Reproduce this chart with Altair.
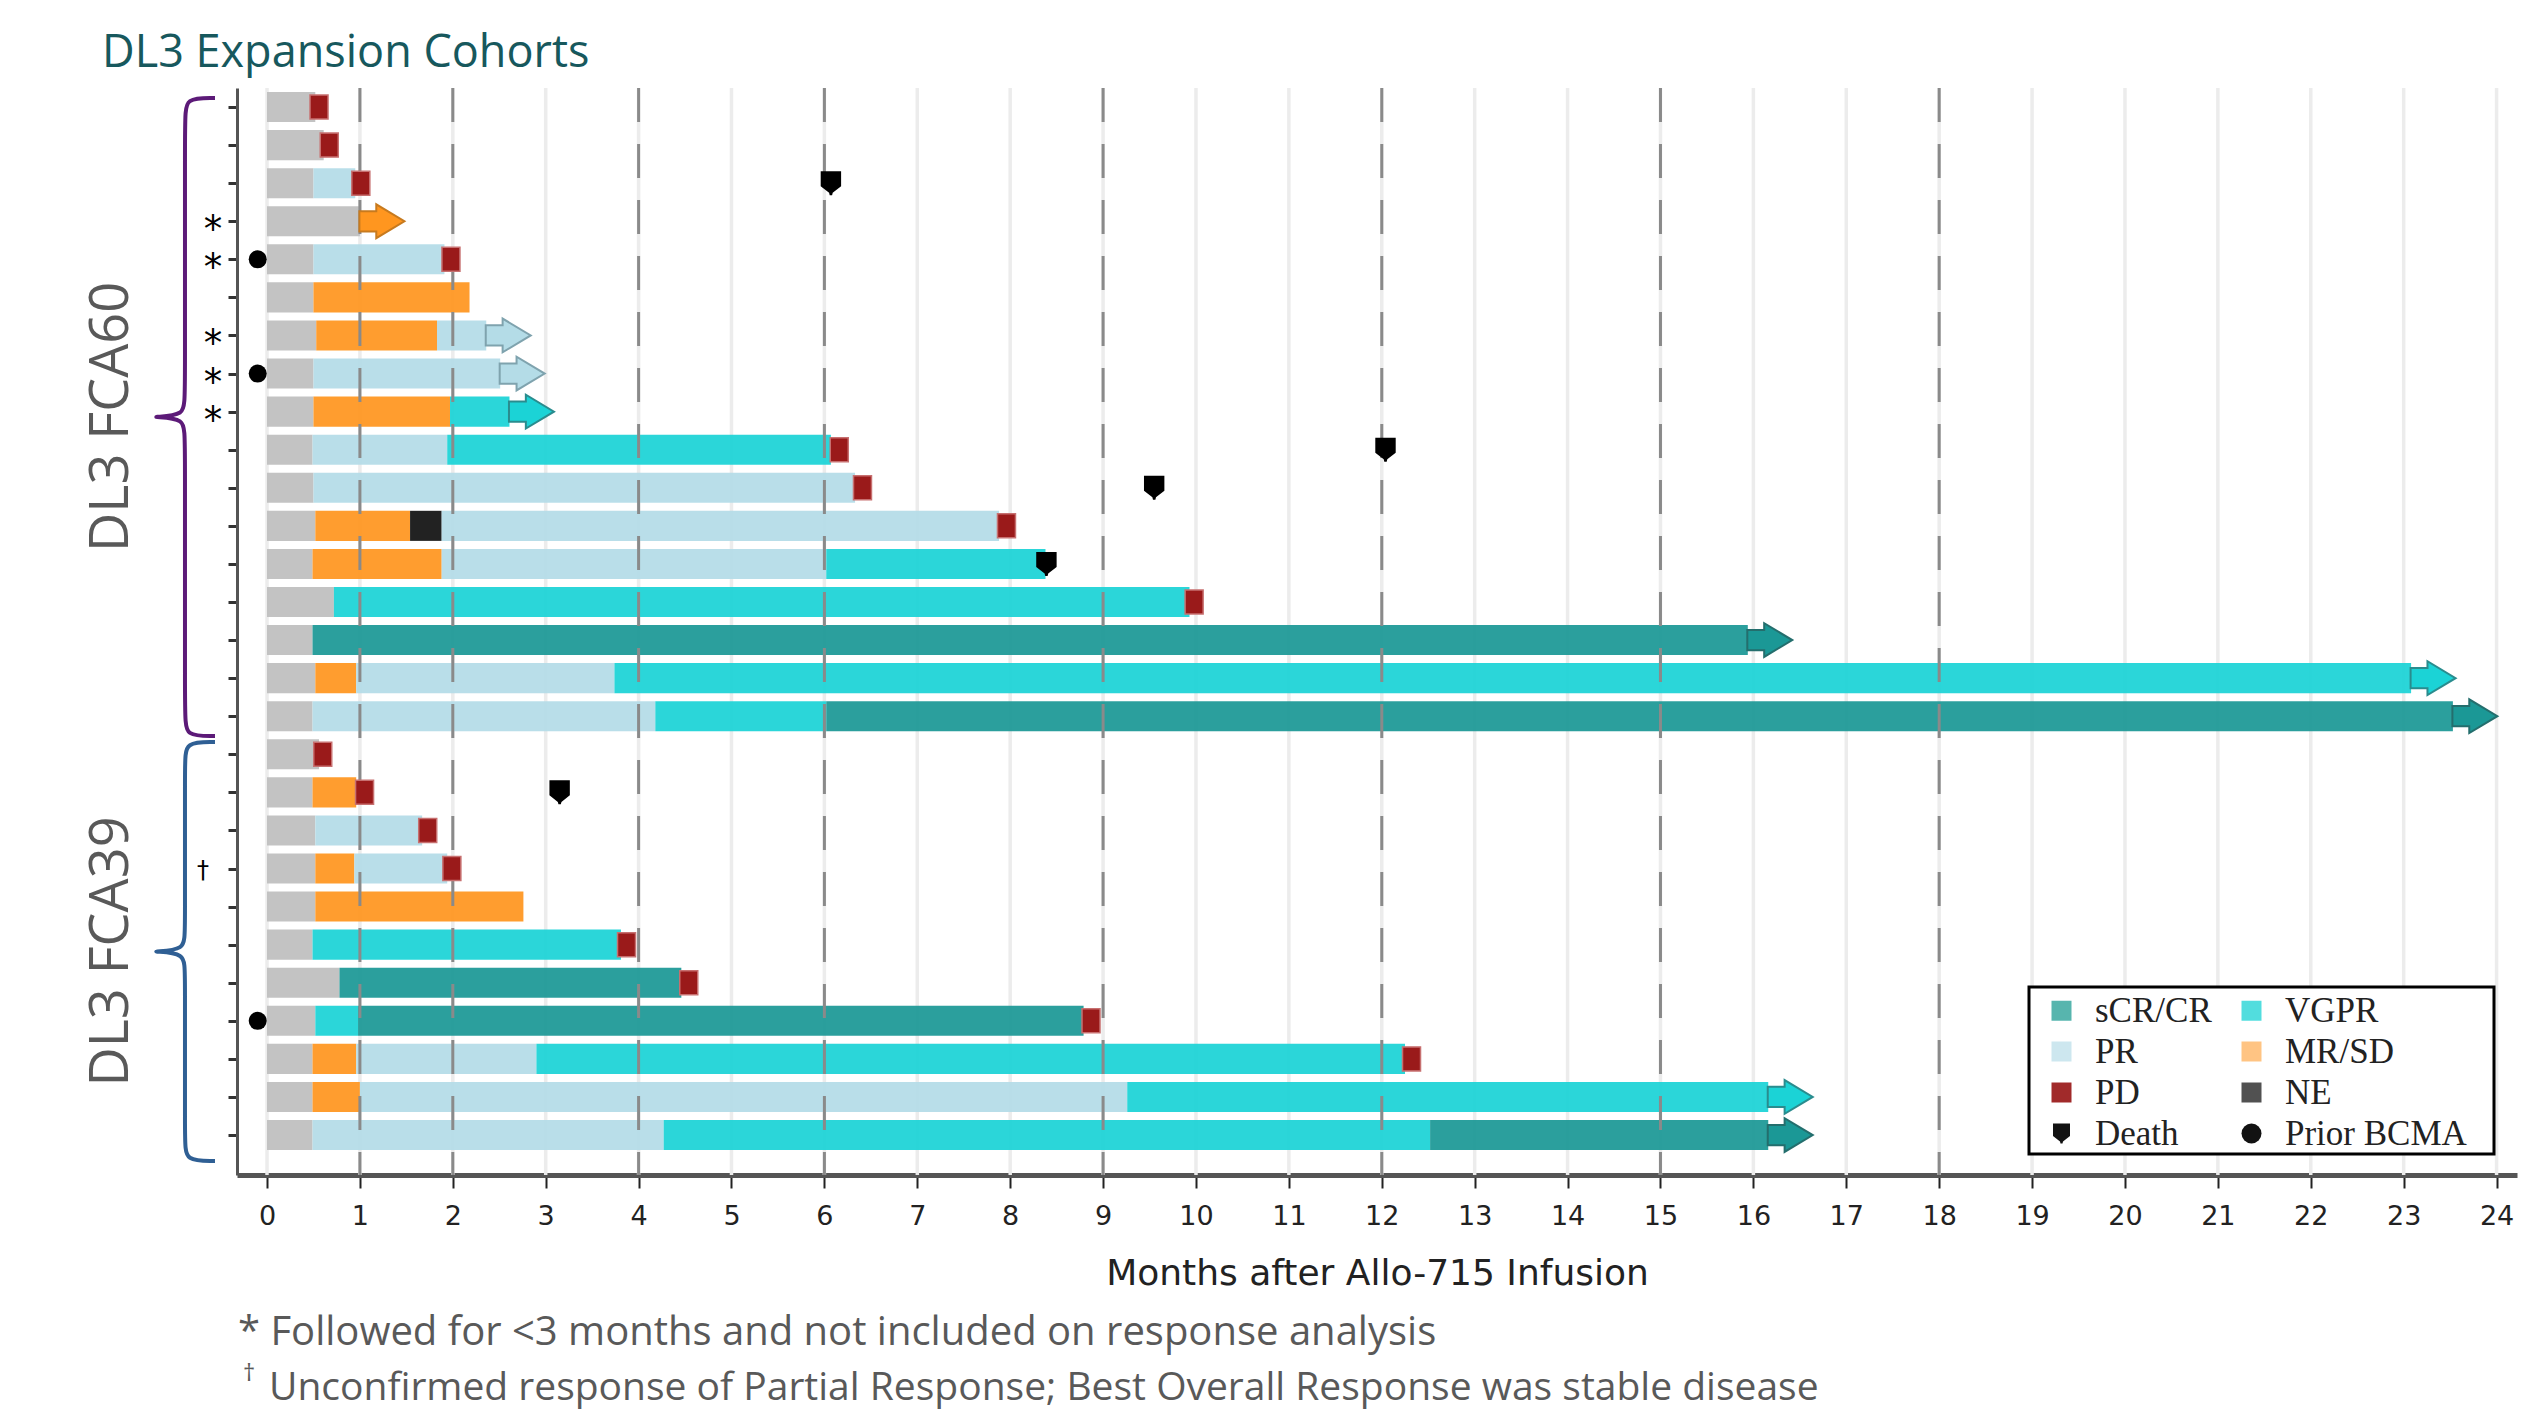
import altair as alt
import pandas as pd

# ---------------- data ----------------
seg_row = [1, 2, 3, 3, 4, 5, 5, 6, 6, 7, 7, 7, 8, 8, 9, 9, 9,
           10, 10, 10, 11, 11, 12, 12, 12, 12, 13, 13, 13, 13, 14, 14,
           15, 15, 16, 16, 16, 16, 17, 17, 17, 17,
           18, 19, 19, 20, 20, 21, 21, 21, 22, 22, 23, 23, 24, 24,
           25, 25, 25, 26, 26, 26, 26, 27, 27, 27, 27, 28, 28, 28, 28]
seg_status = ["Pre", "Pre", "Pre", "PR", "Pre", "Pre", "PR", "Pre", "MR/SD",
              "Pre", "MR/SD", "PR", "Pre", "PR", "Pre", "MR/SD", "VGPR",
              "Pre", "PR", "VGPR", "Pre", "PR", "Pre", "MR/SD", "NE", "PR",
              "Pre", "MR/SD", "PR", "VGPR", "Pre", "VGPR",
              "Pre", "sCR/CR", "Pre", "MR/SD", "PR", "VGPR", "Pre", "PR", "VGPR", "sCR/CR",
              "Pre", "Pre", "MR/SD", "Pre", "PR", "Pre", "MR/SD", "PR", "Pre", "MR/SD",
              "Pre", "VGPR", "Pre", "sCR/CR",
              "Pre", "VGPR", "sCR/CR", "Pre", "MR/SD", "PR", "VGPR",
              "Pre", "MR/SD", "PR", "VGPR", "Pre", "PR", "VGPR", "sCR/CR"]
seg_start = [0, 0, 0, 0.50, 0, 0, 0.50, 0, 0.50, 0, 0.53, 1.83, 0, 0.50, 0, 0.50, 1.97,
             0, 0.49, 1.94, 0, 0.50, 0, 0.52, 1.54, 1.88, 0, 0.49, 1.88, 6.02, 0, 0.72,
             0, 0.49, 0, 0.52, 0.96, 3.74, 0, 0.49, 4.18, 6.02,
             0, 0, 0.49, 0, 0.52, 0, 0.52, 0.94, 0, 0.52, 0, 0.49, 0, 0.78,
             0, 0.52, 0.98, 0, 0.49, 0.96, 2.90, 0, 0.49, 1.00, 9.26, 0, 0.49, 4.27, 12.52]
seg_end = [0.52, 0.61, 0.50, 0.95, 1.00, 0.50, 1.91, 0.50, 2.18, 0.53, 1.83, 2.36, 0.50, 2.51,
           0.50, 1.97, 2.61, 0.49, 1.94, 6.07, 0.50, 6.33, 0.52, 1.54, 1.88, 7.88,
           0.49, 1.88, 6.02, 8.38, 0.72, 9.93, 0.49, 15.94, 0.52, 0.96, 3.74, 23.08,
           0.49, 4.18, 6.02, 23.53,
           0.56, 0.49, 0.96, 0.52, 1.67, 0.52, 0.94, 1.94, 0.52, 2.76, 0.49, 3.81, 0.78, 4.46,
           0.52, 0.98, 8.79, 0.49, 0.96, 2.90, 12.25, 0.49, 1.00, 9.26, 16.16,
           0.49, 4.27, 12.52, 16.16]

pd_row = [1, 2, 3, 5, 10, 11, 12, 14, 18, 19, 20, 21, 23, 24, 25, 26]
pd_time = [0.56, 0.67, 1.01, 1.98, 6.16, 6.41, 7.96, 9.98, 0.60, 1.05, 1.73, 1.99,
           3.87, 4.54, 8.87, 12.32]

death_row = [3, 10, 11, 13, 19]
death_time = [6.07, 12.04, 9.55, 8.39, 3.15]

arrow_row = [4, 7, 8, 9, 15, 16, 17, 27, 28]
arrow_time = [1.00, 2.36, 2.51, 2.61, 15.94, 23.08, 23.53, 16.16, 16.16]
arrow_status = ["MR/SD", "PR", "PR", "VGPR", "sCR/CR", "VGPR", "sCR/CR", "VGPR", "sCR/CR"]

bcma_row = [5, 8, 25]
bcma_time = [-0.10, -0.10, -0.10]

asterisk_row = [4, 5, 7, 8, 9]
dagger_row = [21]

group_label = ["DL3 FCA60", "DL3 FCA39"]
group_top = [0.76, 17.68]
group_bottom = [17.52, 28.68]
group_color = ["#5C1A78", "#2F5F94"]

month_ticks = list(range(0, 25))
dashed_months = [1, 2, 4, 6, 9, 12, 15, 18]
row_ticks = list(range(1, 29))

# legend entries, listed column by column (col 1 then col 2)
legend_labels = ["sCR/CR", "PR", "PD", "Death", "VGPR", "MR/SD", "NE", "Prior BCMA"]
legend_colors = ["#4AAFA8", "#C9E5EE", "#9A1A1A", "#000000", "#45DADC", "#FFC07A", "#444444", "#000000"]

status_colors = {"Pre": "#BEBEBE", "PR": "#B4DCE7", "VGPR": "#1BD3D6",
                 "sCR/CR": "#1B9896", "MR/SD": "#FF961F", "NE": "#111111"}
arrow_stroke = {"MR/SD": "#C77A1E", "PR": "#7FA3AE", "VGPR": "#2A8C8E", "sCR/CR": "#246E6D"}

DEATH_PATH = "M-0.85,-1 L0.85,-1 L0.85,0.25 L0.15,0.8 L0.1,1 L-0.1,1 L-0.15,0.8 L-0.85,0.25 Z"
ARROW_PATH = "M-1,-0.45 L-0.25,-0.45 L-0.25,-0.75 L1,0 L-0.25,0.75 L-0.25,0.45 L-1,0.45 Z"
PD_PATH = "M-0.75,-1 L0.75,-1 L0.75,1 L-0.75,1 Z"
legend_shapes = ["square", "square", "square", DEATH_PATH, "square", "square", "square", "circle"]

# ---------------- frames ----------------
seg_df = pd.DataFrame({"row": seg_row, "status": seg_status, "start": seg_start, "end": seg_end})
seg_df["y0"] = seg_df["row"] - 0.395
seg_df["y1"] = seg_df["row"] + 0.395
seg_df["hex"] = seg_df["status"].map(status_colors)

pd_df = pd.DataFrame({"row": pd_row, "t": pd_time})
death_df = pd.DataFrame({"row": death_row, "t": death_time})
arrow_df = pd.DataFrame({"row": arrow_row, "t": arrow_time, "status": arrow_status})
arrow_df["hex"] = arrow_df["status"].map(status_colors)
arrow_df["edge"] = arrow_df["status"].map(arrow_stroke)
bcma_df = pd.DataFrame({"row": bcma_row, "t": bcma_time})
ast_df = pd.DataFrame({"row": asterisk_row, "s": ["*"] * len(asterisk_row)})
dag_df = pd.DataFrame({"row": dagger_row, "s": ["\u2020"] * len(dagger_row)})

br_rows = []
for lab, top, bot, col in zip(group_label, group_top, group_bottom, group_color):
    mid = (top + bot) / 2
    pts = [(-0.56, top), (-0.56, top), (-0.883, top), (-0.883, top + 0.5),
           (-0.883, mid - 0.5), (-0.883, mid - 0.05), (-1.206, mid), (-1.206, mid),
           (-0.883, mid + 0.05), (-0.883, mid + 0.5), (-0.883, bot - 0.5),
           (-0.883, bot), (-0.56, bot), (-0.56, bot)]
    for i, (xx, yy) in enumerate(pts):
        br_rows.append({"grp": lab, "i": i, "bx": xx, "by": yy, "col": col})
br_df = pd.DataFrame(br_rows)
grp_df = pd.DataFrame({"label": group_label,
                       "mid": [(a + b) / 2 for a, b in zip(group_top, group_bottom)]})

# ---------------- scales / axes ----------------
xs = alt.Scale(domain=[-0.323, 24.22], nice=False, zero=False)
ys = alt.Scale(domain=[0.5, 29.05], reverse=True, nice=False, zero=False)
AX_FONT = "DejaVu Sans"

x_axis = alt.Axis(values=month_ticks, format="d", title="Months after Allo-715 Infusion",
                  labelFont=AX_FONT, labelFontSize=27, labelColor="#222222",
                  tickSize=13, tickWidth=2, tickColor="#222222",
                  domainColor="#555555", domainWidth=5, grid=False,
                  labelPadding=15, labelFlush=False, labelOverlap=False,
                  titleFont=AX_FONT, titleFontSize=36, titleFontWeight="normal",
                  titleColor="#222222", titlePadding=27)
y_axis = alt.Axis(values=row_ticks, labels=False, tickSize=9, tickWidth=3, tickColor="#333333",
                  domainColor="#555555", domainWidth=3, grid=False, title="")


def X(field):
    return alt.X(field, scale=xs, axis=x_axis)


def Y(field):
    return alt.Y(field, scale=ys, axis=y_axis)


light_grid = alt.Chart(pd.DataFrame({"m": month_ticks})).mark_rule(
    color="#ECECEC", strokeWidth=3.5).encode(x=X("m:Q"))

bars = alt.Chart(seg_df).mark_rect(opacity=0.93).encode(
    x=X("start:Q"), x2="end:Q", y=Y("y0:Q"), y2="y1:Q",
    color=alt.Color("hex:N", scale=None))

dashed = alt.Chart(pd.DataFrame({"m": dashed_months})).mark_rule(
    color="#8A8A8A", strokeWidth=3, strokeDash=[34, 22]).encode(x=X("m:Q"))

pd_marks = alt.Chart(pd_df).mark_point(filled=True, shape=PD_PATH, size=576, color="#9A1A1A",
                                       stroke="#C77070", strokeWidth=1.5, opacity=1).encode(
    x=X("t:Q"), y=Y("row:Q"))

arrows = alt.Chart(arrow_df).mark_point(filled=True, shape=ARROW_PATH, size=2025, xOffset=22,
                                        strokeWidth=2, opacity=1).encode(
    x=X("t:Q"), y=Y("row:Q"),
    fill=alt.Fill("hex:N", scale=None), stroke=alt.Stroke("edge:N", scale=None))

deaths = alt.Chart(death_df).mark_point(filled=True, shape=DEATH_PATH, size=576, color="#000000",
                                        opacity=1).encode(x=X("t:Q"), y=Y("row:Q"))

dots = alt.Chart(bcma_df).mark_point(filled=True, shape="circle", size=324, color="#000000",
                                     opacity=1).encode(x=X("t:Q"), y=Y("row:Q"))

asterisks = alt.Chart(ast_df).mark_text(font="DejaVu Sans", fontSize=37, color="#000000",
                                        align="center", baseline="middle", dy=10).encode(
    x=alt.value(-24), y=Y("row:Q"), text="s:N")

daggers = alt.Chart(dag_df).mark_text(font="DejaVu Sans", fontSize=24, color="#000000",
                                      align="center", baseline="middle", dy=2).encode(
    x=alt.value(-34), y=Y("row:Q"), text="s:N")

brackets = alt.Chart(br_df).mark_line(interpolate="basis", strokeWidth=4).encode(
    x=X("bx:Q"), y=Y("by:Q"),
    color=alt.Color("col:N", scale=None), detail="grp:N", order="i:Q")

grp_text = alt.Chart(grp_df).mark_text(font="Open Sans", fontSize=54, color="#595959",
                                       angle=270, align="center", baseline="middle").encode(
    x=alt.value(-125), y=Y("mid:Q"), text="label:N")

one = pd.DataFrame({"k": [0]})
title_txt = alt.Chart(one).mark_text(text="DL3 Expansion Cohorts", font="Open Sans", fontSize=45,
                                     color="#17585D", align="left", baseline="middle").encode(
    x=alt.value(-135), y=alt.value(-35))
foot1 = alt.Chart(one).mark_text(text="* Followed for <3 months and not included on response analysis",
                                 font="Open Sans", fontSize=40, color="#595959",
                                 align="left", baseline="middle").encode(
    x=alt.value(1), y=alt.value(1245))
foot2a = alt.Chart(one).mark_text(text="\u2020", font="Open Sans", fontSize=24, color="#595959",
                                  align="left", baseline="middle").encode(
    x=alt.value(6), y=alt.value(1286))
foot2 = alt.Chart(one).mark_text(text="Unconfirmed response of Partial Response; Best Overall Response was stable disease",
                                 font="Open Sans", fontSize=39, color="#595959",
                                 align="left", baseline="middle").encode(
    x=alt.value(32), y=alt.value(1300))

legend_box = alt.Chart(one).mark_rect(fill="#FFFFFF", stroke="#000000", strokeWidth=3).encode(
    x=alt.value(1792), x2=alt.value(2257), y=alt.value(899), y2=alt.value(1066))

leg = alt.Legend(title=None, orient="none", legendX=1807, legendY=905, columns=2,
                 direction="vertical", symbolSize=400, labelFont="Liberation Serif",
                 labelFontSize=35, labelColor="#222222", labelOffset=16, labelLimit=400,
                 columnPadding=22, rowPadding=5, symbolStrokeWidth=0, padding=0)
legend_layer = alt.Chart(pd.DataFrame({"leg": legend_labels})).mark_point(
    filled=True, clip=True, opacity=1).encode(
    x=alt.value(-1000), y=alt.value(-1000),
    color=alt.Color("leg:N", scale=alt.Scale(domain=legend_labels, range=legend_colors), legend=leg),
    shape=alt.Shape("leg:N", scale=alt.Scale(domain=legend_labels, range=legend_shapes), legend=leg))

chart = alt.layer(
    light_grid, bars, dashed, pd_marks, arrows, deaths, dots, asterisks, daggers,
    brackets, grp_text, title_txt, foot1, foot2a, foot2, legend_box, legend_layer
).properties(
    width=2280, height=1087,
    autosize=alt.AutoSizeParams(type="none"),
    padding={"left": 229, "top": 80, "right": 3, "bottom": 239},
).configure_view(strokeWidth=0)

chart.save("out.html", embed_options={"renderer": "svg", "actions": False})
